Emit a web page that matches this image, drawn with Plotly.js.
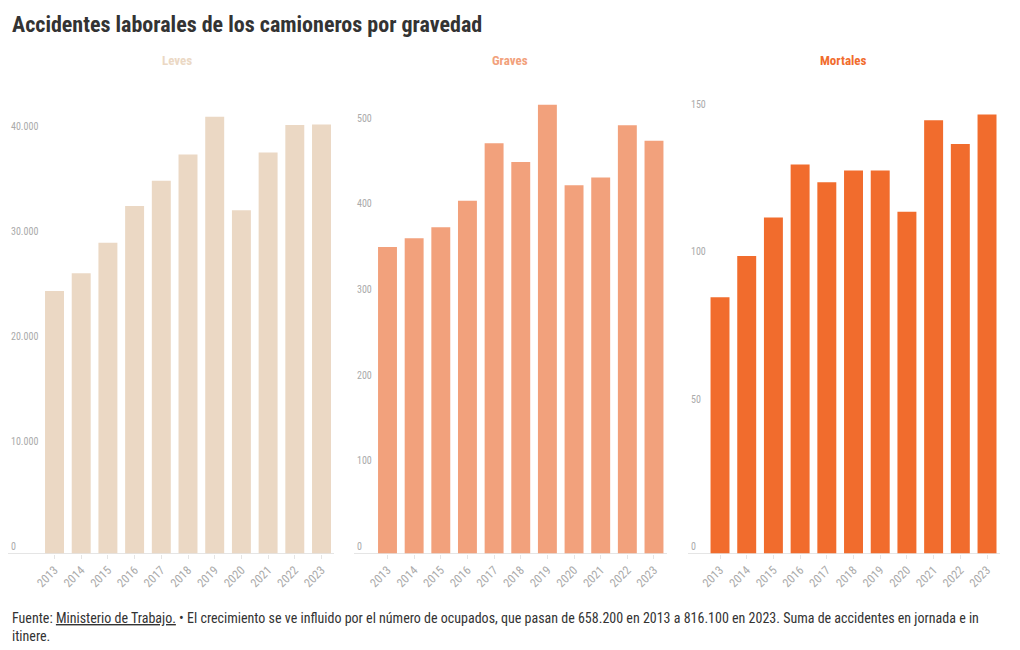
<!DOCTYPE html>
<html><head><meta charset="utf-8">
<script src="https://cdn.plot.ly/plotly-3.0.1.min.js"></script>
<style>html,body{margin:0;padding:0;background:#fff}#chart{width:1020px;height:650px}</style>
</head><body><div id="chart"></div>
<script>
const years = ['2013','2014','2015','2016','2017','2018','2019','2020','2021','2022','2023'];
const leves = [25000, 26700, 29600, 33100, 35500, 38000, 41600, 32700, 38200, 40800, 40850];
const graves = [358, 368, 381, 412, 479, 457, 524, 430, 439, 500, 482];
const mortales = [87, 101, 114, 132, 126, 130, 130, 116, 147, 139, 149];
const panelNames = ['Leves', 'Graves', 'Mortales'];
const panelColors = ['#ebd8c4', '#f2a17c', '#f16c2d'];
const titleText = 'Accidentes laborales de los camioneros por gravedad';
const sourceText = 'Fuente: <span style="text-decoration:underline">Ministerio de Trabajo.</span> • El crecimiento se ve influido por el número de ocupados, que pasan de 658.200 en 2013 a 816.100 en 2023. Suma de accidentes en jornada e in<br>itinere.';

const FONT = "'Roboto Condensed', 'Liberation Sans Narrow', 'DejaVu Sans Condensed', Roboto, sans-serif";
const W = 1020, H = 650;
const px = v => v / W;
const py = v => 1 - v / H;

const series = [leves, graves, mortales];
const xDom = [[8, 334], [354, 667], [688, 1000]];
const xRng = [[-1.742, 10.468], [-1.257, 10.488], [-1.199, 10.486]];
const yTop = [44143, 541.2, 157.3];
const dticks = [10000, 100, 50];
const yBottomPx = 553.5, yTopPx = 90;

const data = series.map((vals, i) => ({
  type: 'bar', x: years, y: vals,
  xaxis: i === 0 ? 'x' : 'x' + (i + 1),
  yaxis: i === 0 ? 'y' : 'y' + (i + 1),
  marker: {color: panelColors[i]},
  hoverinfo: 'x+y', showlegend: false
}));

const layout = {
  width: W, height: H,
  margin: {l: 0, r: 0, t: 0, b: 0},
  paper_bgcolor: '#fff', plot_bgcolor: '#fff',
  separators: ',.',
  bargap: 0.29,
  font: {family: FONT, color: '#333'},
  showlegend: false,
  annotations: [
    {text: '<b>' + titleText + '</b>', xref: 'paper', yref: 'paper', x: px(10), y: py(25), xanchor: 'left', yanchor: 'middle', showarrow: false, font: {size: 22, color: '#333', family: FONT}},
    {text: sourceText, xref: 'paper', yref: 'paper', x: px(10), y: py(608), xanchor: 'left', yanchor: 'top', align: 'left', showarrow: false, font: {size: 14, color: '#333', family: FONT}}
  ]
};
const titleCenters = [177, 510, 843];
series.forEach((vals, i) => {
  const xa = i === 0 ? 'xaxis' : 'xaxis' + (i + 1);
  const ya = i === 0 ? 'yaxis' : 'yaxis' + (i + 1);
  const ax = i === 0 ? 'x' : 'x' + (i + 1);
  const ay = i === 0 ? 'y' : 'y' + (i + 1);
  layout[xa] = {
    domain: [px(xDom[i][0]), px(xDom[i][1])], anchor: ay,
    type: 'category', range: xRng[i], fixedrange: true,
    tickangle: -45, tickfont: {size: 12, color: '#aaa', family: FONT},
    ticks: 'outside', ticklen: 4, tickcolor: '#e5e5e5',
    showline: false, showgrid: false, zeroline: false
  };
  layout[ya] = {
    domain: [py(yBottomPx), py(yTopPx)], anchor: ax,
    range: [0, yTop[i]], dtick: dticks[i], tick0: 0, tickformat: ',d',
    ticklabelposition: 'inside top', ticks: '', showgrid: false,
    zeroline: true, zerolinecolor: '#e5e5e5', zerolinewidth: 1,
    showline: false, fixedrange: true,
    tickfont: {size: 10, color: '#aaa', family: FONT}
  };
  layout.annotations.push({
    text: '<b>' + panelNames[i] + '</b>', xref: 'paper', yref: 'paper',
    x: px(titleCenters[i]), y: py(61), xanchor: 'center', yanchor: 'middle',
    showarrow: false, font: {size: 13, color: panelColors[i], family: FONT}
  });
});
Plotly.newPlot('chart', data, layout, {displayModeBar: false, staticPlot: true});
</script></body></html>
